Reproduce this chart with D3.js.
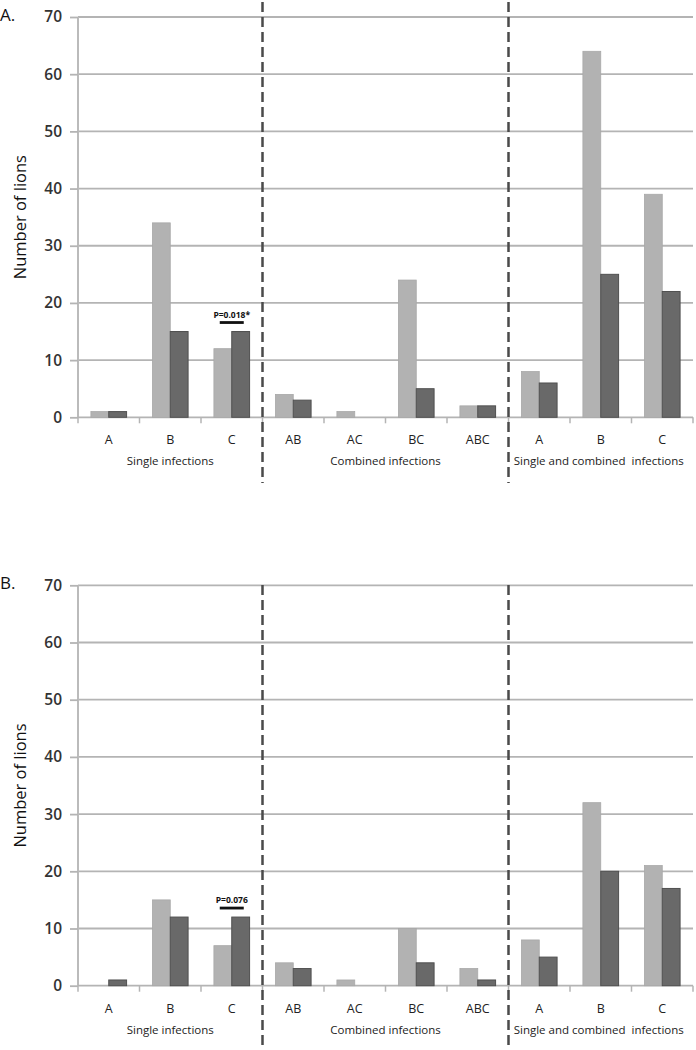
<!DOCTYPE html>
<html><head><meta charset="utf-8">
<script src="https://cdn.jsdelivr.net/npm/d3@7/dist/d3.min.js"></script>
<style>body{margin:0;background:#fff}svg{display:block}</style>
</head><body>
<svg id="chart" width="696" height="1050"></svg>
<script>
const categories = ["A","B","C","AB","AC","BC","ABC","A","B","C"];
const groupLabels = ["Single infections","Combined infections","Single and combined  infections"];
const groupSpans = [[0,3],[3,7],[7,10]];
const yTicks = [0,10,20,30,40,50,60,70];
const panelA_light = [1,34,12,4,1,24,2,8,64,39];
const panelA_dark  = [1,15,15,3,0,5,2,6,25,22];
const panelB_light = [0,15,7,4,1,10,3,8,32,21];
const panelB_dark  = [1,12,12,3,0,4,1,5,20,17];
const pAnnot = ["P=0.018*","P=0.076"];

const svg = d3.select("#chart");
const font = "'Open Sans', 'Liberation Sans', sans-serif";
const left = 78, right = 693;

function panel(letter, y0, y70, light, dark, ann, dashTop, dashBot){
  const g = svg.append("g");
  const x = d3.scaleBand().domain(d3.range(categories.length)).range([left,right]).padding(0);
  const y = d3.scaleLinear().domain([0,70]).range([y0,y70]);
  const bw = x.bandwidth();
  const barW = bw*0.29;
  g.selectAll("line.grid").data(yTicks.filter(d=>d>0)).join("line")
    .attr("x1",left).attr("x2",right).attr("y1",d=>y(d)).attr("y2",d=>y(d))
    .attr("stroke","#b4b4b4").attr("stroke-width",1.8);
  const ya = g.append("g").attr("transform",`translate(${left},0)`).call(d3.axisLeft(y).tickValues(yTicks).tickSize(8).tickPadding(8));
  ya.select(".domain").attr("stroke","#bbb").attr("stroke-width",2).attr("d",`M0,${y(0)}V${y(70)}`);
  ya.selectAll(".tick line").attr("stroke","#b4b4b4").attr("stroke-width",1.8);
  ya.selectAll(".tick text").attr("font-family",font).attr("font-size",15.5).attr("font-weight",600).attr("fill","#333");
  const xb = g.append("g").attr("transform",`translate(0,${y0})`);
  xb.append("line").attr("x1",left).attr("x2",right).attr("stroke","#b4b4b4").attr("stroke-width",1.8);
  xb.selectAll("line.t").data(d3.range(categories.length+1)).join("line")
    .attr("x1",i=>left+i*bw).attr("x2",i=>left+i*bw).attr("y1",0).attr("y2",6)
    .attr("stroke","#b4b4b4").attr("stroke-width",1.5);
  const idx = d3.range(categories.length);
  g.selectAll("rect.l").data(idx).join("rect")
    .attr("x",i=>x(i)+bw/2-barW).attr("width",barW)
    .attr("y",i=>y(light[i])).attr("height",i=>y(0)-y(light[i]))
    .attr("fill","#b2b2b2").attr("stroke","#a8a8a8").attr("stroke-width",0.8);
  g.selectAll("rect.d").data(idx.filter(i=>dark[i]>0)).join("rect")
    .attr("x",i=>x(i)+bw/2).attr("width",barW)
    .attr("y",i=>y(dark[i])).attr("height",i=>y(0)-y(dark[i]))
    .attr("fill","#696969").attr("stroke","#505050").attr("stroke-width",1);
  g.selectAll("text.cat").data(idx).join("text")
    .attr("x",i=>x(i)+bw/2).attr("y",y0+27).attr("text-anchor","middle")
    .attr("font-family",font).attr("font-size",12.5).attr("fill","#222").text(i=>categories[i]);
  g.selectAll("text.grp").data(groupLabels).join("text")
    .attr("x",(d,i)=>(left+groupSpans[i][0]*bw + left+groupSpans[i][1]*bw)/2 + (i===2? -2:0))
    .attr("y",y0+48).attr("text-anchor","middle").style("white-space","pre")
    .attr("font-family",font).attr("font-size",11.5).attr("fill","#222").text(d=>d);
  [3,7].forEach(k=>{
    g.append("line").attr("x1",left+k*bw).attr("x2",left+k*bw).attr("y1",dashTop).attr("y2",dashBot)
      .attr("stroke","#4a4a4a").attr("stroke-width",2.5).attr("stroke-dasharray","10,5");
  });
  const cx = x(2)+bw/2;
  const yTop = y(Math.max(light[2],dark[2]));
  g.append("line").attr("x1",cx-12).attr("x2",cx+12).attr("y1",yTop-9).attr("y2",yTop-9)
    .attr("stroke","#111").attr("stroke-width",2.8);
  g.append("text").attr("x",cx).attr("y",yTop-14).attr("text-anchor","middle")
    .attr("font-family",font).attr("font-size",8.5).attr("font-weight",700).attr("fill","#111").text(ann);
  const ym = (y0+y70)/2;
  g.append("text").attr("transform",`translate(26,${ym}) rotate(-90)`).attr("text-anchor","middle")
    .attr("font-family",font).attr("font-size",16.5).attr("fill","#111").text("Number of lions");
  g.append("text").attr("x",0).attr("y",y70+4).attr("font-family",font).attr("font-size",17).attr("fill","#111").text(letter);
}

panel("A.", 417.3, 17, panelA_light, panelA_dark, pAnnot[0], 2, 483);
panel("B.", 985.7, 585.3, panelB_light, panelB_dark, pAnnot[1], 585, 1050);
</script>
</body></html>
